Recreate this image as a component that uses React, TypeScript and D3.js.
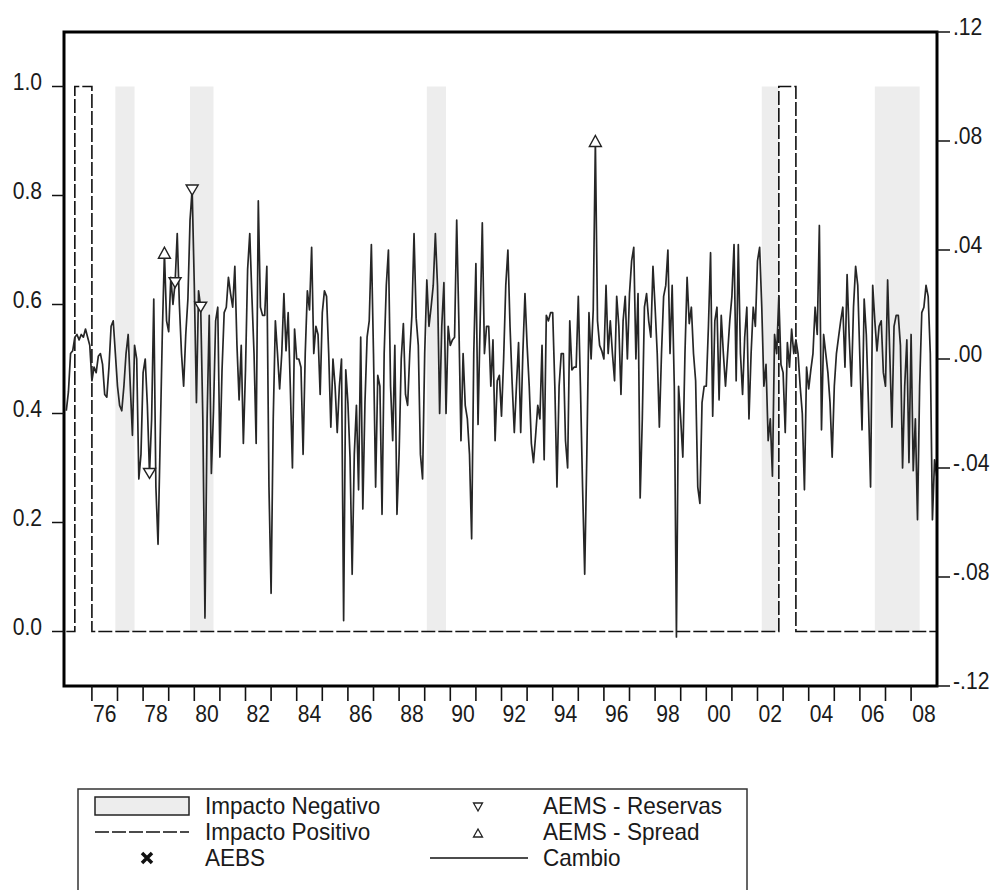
import React from "react";
import * as d3 from "d3";

// monthly Cambio series, first observation Jan 1975 (right axis)
const cambio1970s = [
  -0.019, -0.012, 0.002, 0.003, 0.008, 0.009, 0.007, 0.009, 0.008, 0.011, 0.008, 0.005,
  -0.008, -0.003, -0.005, 0.001, 0.002, -0.002, -0.013, -0.014, -0.003, 0.012, 0.014, 0.002,
  -0.01, -0.017, -0.019, -0.01, 0.002, 0.009, -0.01, -0.028, 0.005, 0.0, -0.044, -0.035,
  -0.005, 0.0, -0.017, -0.042, -0.022, 0.022, -0.047, -0.068, -0.03, 0.009, 0.039, 0.014,
  0.01, 0.03, 0.02, 0.028, 0.046, 0.02, 0.002, -0.01, 0.009, 0.022, 0.051, 0.062,
];
const cambio1980s = [
  0.027, -0.016, 0.025, 0.019, -0.022, -0.095, -0.022, 0.016, -0.042, -0.019, 0.014, 0.019,
  -0.036, -0.004, 0.017, 0.019, 0.03, 0.024, 0.019, 0.034, 0.005, -0.015, 0.005, -0.031,
  -0.004, 0.033, 0.046, 0.023, 0.002, -0.031, 0.058, 0.019, 0.016, 0.016, 0.034, -0.047,
  -0.086, -0.022, 0.014, 0.002, -0.011, 0.002, 0.024, 0.003, 0.017, -0.01, -0.04, 0.011,
  0.0, 0.0, -0.003, -0.035, 0.002, 0.025, 0.018, 0.041, 0.002, 0.012, 0.009, -0.013,
  0.017, 0.025, 0.023, 0.002, -0.025, 0.0, -0.01, -0.027, -0.01, 0.0, -0.096, -0.004,
  -0.016, -0.036, -0.079, -0.035, -0.017, -0.048, 0.008, -0.055, -0.016, 0.008, 0.014, 0.042,
  0.002, -0.047, -0.006, -0.01, -0.057, 0.002, 0.027, 0.04, -0.01, -0.03, 0.005, -0.057,
  -0.035, 0.0, 0.013, -0.013, -0.017, 0.002, 0.016, 0.046, 0.015, 0.005, -0.035, -0.044,
  0.002, 0.029, 0.012, 0.019, 0.027, 0.046, 0.027, -0.02, 0.012, 0.028, -0.02, 0.012,
];
const cambio1990s = [
  0.005, 0.007, 0.008, 0.051, 0.014, -0.03, 0.002, -0.017, -0.022, -0.035, -0.066, 0.002,
  0.035, -0.024, 0.014, 0.05, 0.002, 0.012, 0.012, -0.01, 0.007, -0.03, -0.008, -0.006,
  -0.021, 0.0, 0.027, 0.04, 0.012, -0.009, -0.027, -0.01, 0.006, -0.027, 0.002, 0.024,
  0.005, -0.01, -0.031, -0.038, -0.028, -0.017, -0.022, 0.005, -0.037, 0.016, 0.014, 0.017,
  0.017, -0.01, -0.047, -0.01, 0.002, 0.002, -0.03, -0.04, 0.014, -0.004, -0.003, -0.003,
  0.023, -0.01, -0.047, -0.079, -0.035, 0.017, 0.0, 0.018, 0.08, 0.014, 0.005, 0.003,
  0.0, 0.027, 0.002, 0.014, 0.002, -0.008, 0.023, 0.012, -0.013, 0.014, 0.023, 0.0,
  0.024, 0.036, 0.041, 0.0, 0.024, -0.051, -0.022, 0.019, 0.024, 0.014, 0.008, 0.034,
  0.019, 0.002, -0.025, 0.002, 0.023, 0.027, 0.04, 0.002, 0.027, -0.01, -0.102, -0.01,
  -0.022, -0.036, 0.002, 0.03, 0.013, 0.019, 0.002, -0.008, -0.047, -0.053, -0.016, -0.01,
];
const cambio2000s = [
  -0.01, 0.012, 0.039, -0.021, 0.014, 0.019, -0.015, 0.016, 0.002, -0.01, 0.002, 0.014,
  0.023, 0.042, -0.008, 0.042, 0.002, -0.013, 0.008, 0.019, -0.022, 0.002, 0.019, 0.012,
  0.036, 0.041, 0.019, -0.01, -0.002, -0.03, -0.022, -0.043, 0.009, 0.002, 0.023, -0.002,
  -0.005, -0.027, 0.006, -0.003, 0.011, 0.002, 0.007, 0.002, -0.01, -0.02, -0.048, -0.003,
  -0.011, -0.004, 0.002, 0.019, 0.009, 0.049, -0.026, 0.009, 0.002, -0.005, -0.016, -0.036,
  -0.01, 0.002, 0.008, 0.014, 0.019, -0.003, 0.031, 0.008, -0.01, 0.019, 0.034, 0.027,
  0.0, -0.026, 0.022, 0.009, -0.016, -0.047, 0.027, 0.014, 0.003, 0.012, 0.014, -0.005,
  -0.01, 0.029, 0.002, -0.025, 0.012, 0.016, 0.016, 0.005, -0.04, -0.01, 0.007, -0.038,
  0.009, -0.041, -0.022, -0.059, -0.01, 0.017, 0.019, 0.027, 0.023, 0.002, -0.059, -0.037,
  -0.043,
];

// shaded periods (left axis, 0..1) and the dashed dummy
const impactoNegativo = [
  ["1976-12", "1977-09"],
  ["1979-11", "1980-10"],
  ["1989-02", "1989-11"],
  ["2002-03", "2002-11"],
  ["2006-08", "2008-05"],
];
const impactoPositivo = [
  ["1975-05", "1976-01"],
  ["2002-11", "2003-07"],
];

// event markers, drawn on the Cambio line
const aemsReservas = ["1978-04", "1979-04", "1979-12", "1980-04"];
const aemsSpread = ["1978-11", "1995-09"];

const leftTicks = ["0.0", "0.2", "0.4", "0.6", "0.8", "1.0"];
const rightTicks = [".12", ".08", ".04", ".00", "-.04", "-.08", "-.12"];
const yearLabels = ["76", "78", "80", "82", "84", "86", "88", "90", "92", "94", "96", "98", "00", "02", "04", "06", "08"];

const FONT = "'Liberation Sans', Arial, sans-serif";

const toT = (s: string) => {
  const [y, m] = s.split("-").map(Number);
  return y + (m - 1) / 12;
};

function Txt({ x, y, anchor = "start", size = 24, sx = 0.88, children }: any) {
  return (
    <text
      transform={`translate(${x},${y}) scale(${sx},1)`}
      textAnchor={anchor}
      fontSize={size}
      fontFamily={FONT}
      fill="#1a1a1a"
    >
      {children}
    </text>
  );
}

const triDown = (cx: number, cy: number, w: number, h: number) =>
  `M${cx - w / 2},${cy - h / 2}L${cx + w / 2},${cy - h / 2}L${cx},${cy + h / 2}Z`;
const triUp = (cx: number, cy: number, w: number, h: number) =>
  `M${cx - w / 2},${cy + h / 2}L${cx + w / 2},${cy + h / 2}L${cx},${cy - h / 2}Z`;

export default function App() {
  const frame = { left: 64, right: 937, top: 32, bottom: 686 };
  const cambio = [...cambio1970s, ...cambio1980s, ...cambio1990s, ...cambio2000s];
  const series = cambio.map((v, i) => ({ t: 1975 + i / 12, v }));

  const x = d3.scaleLinear().domain([1975, 2009]).range([66.3, 936.7]);
  const yL = d3.scaleLinear().domain([-0.1, 1.1]).range([frame.bottom, frame.top]);
  const yR = d3.scaleLinear().domain([-0.12, 0.12]).range([frame.bottom, frame.top]);

  const line = d3
    .line<{ t: number; v: number }>()
    .x((d) => x(d.t))
    .y((d) => yR(d.v));

  const stepPts: [number, number][] = [[1975, 0]];
  impactoPositivo.forEach(([a, b]) => {
    stepPts.push([toT(a), 0], [toT(a), 1], [toT(b), 1], [toT(b), 0]);
  });
  stepPts.push([2009, 0]);
  const stepLine = d3
    .line<[number, number]>()
    .x((d) => x(d[0]))
    .y((d) => yL(d[1]));

  const valueAt = (s: string) => cambio[Math.round((toT(s) - 1975) * 12)];
  const years = d3.range(1976, 2009);

  const legTop = 789;
  const rows = [806, 832, 858];

  return (
    <svg
      width={1002}
      height={890}
      style={{ position: "absolute", left: 0, top: 0, background: "#fff" }}
    >
      <rect width={1002} height={890} fill="#fff" />

      {/* Impacto Negativo shading */}
      {impactoNegativo.map(([a, b], i) => (
        <rect
          key={i}
          x={x(toT(a))}
          width={x(toT(b)) - x(toT(a))}
          y={yL(1)}
          height={yL(0) - yL(1)}
          fill="#ededed"
        />
      ))}

      {/* Impacto Positivo */}
      <path d={stepLine(stepPts) || ""} fill="none" stroke="#111" strokeWidth={1.6} strokeDasharray="14 3" />

      {/* Cambio */}
      <path d={line(series) || ""} fill="none" stroke="#262626" strokeWidth={1.7} strokeLinejoin="round" />

      {aemsReservas.map((s) => (
        <path key={s} d={triDown(x(toT(s)), yR(valueAt(s)), 12, 10)} fill="#fff" stroke="#222" strokeWidth={1.4} />
      ))}
      {aemsSpread.map((s) => (
        <path key={s} d={triUp(x(toT(s)), yR(valueAt(s)), 12, 11)} fill="#fff" stroke="#222" strokeWidth={1.4} />
      ))}

      {/* frame */}
      <rect
        x={frame.left}
        y={frame.top}
        width={frame.right - frame.left}
        height={frame.bottom - frame.top}
        fill="none"
        stroke="#000"
        strokeWidth={3}
      />

      {/* left axis */}
      {leftTicks.map((l) => (
        <g key={l}>
          <line x1={52} x2={frame.left} y1={yL(+l)} y2={yL(+l)} stroke="#111" strokeWidth={1.5} />
          <Txt x={42} y={yL(+l) + 3} anchor="end">
            {l}
          </Txt>
        </g>
      ))}

      {/* right axis */}
      {rightTicks.map((l) => (
        <g key={l}>
          <line x1={frame.right} x2={950} y1={yR(+l)} y2={yR(+l)} stroke="#111" strokeWidth={1.5} />
          <Txt x={953} y={yR(+l) + 3}>
            {l}
          </Txt>
        </g>
      ))}

      {/* bottom axis */}
      {years.map((yr) => (
        <line key={yr} x1={x(yr)} x2={x(yr)} y1={frame.bottom} y2={frame.bottom + 15} stroke="#111" strokeWidth={1.6} />
      ))}
      {yearLabels.map((l) => {
        const yr = (+l < 50 ? 2000 : 1900) + +l;
        return (
          <Txt key={l} x={x(yr + 0.5)} y={frame.bottom + 36} anchor="middle">
            {l}
          </Txt>
        );
      })}

      {/* legend */}
      <rect x={78} y={legTop} width={669} height={120} fill="none" stroke="#333" strokeWidth={1.5} />
      <rect x={95} y={rows[0] - 9} width={94} height={18} fill="#ededed" stroke="#222" strokeWidth={1.5} />
      <line x1={95} x2={189} y1={rows[1]} y2={rows[1]} stroke="#111" strokeWidth={1.6} strokeDasharray="14 3" />
      <path
        d={`M${142},${rows[2] - 5}L${152},${rows[2] + 5}M${152},${rows[2] - 5}L${142},${rows[2] + 5}`}
        stroke="#111"
        strokeWidth={3.5}
      />
      <Txt x={205} y={rows[0] + 8} size={23} sx={0.98}>Impacto Negativo</Txt>
      <Txt x={205} y={rows[1] + 8} size={23} sx={0.98}>Impacto Positivo</Txt>
      <Txt x={205} y={rows[2] + 8} size={23} sx={0.98}>AEBS</Txt>

      <path d={triDown(478, rows[0] + 1, 9, 8)} fill="#fff" stroke="#222" strokeWidth={1.3} />
      <path d={triUp(478, rows[1] + 1, 9, 8)} fill="#fff" stroke="#222" strokeWidth={1.3} />
      <line x1={430} x2={528} y1={rows[2]} y2={rows[2]} stroke="#111" strokeWidth={1.5} />
      <Txt x={543} y={rows[0] + 8} size={23} sx={0.98}>AEMS - Reservas</Txt>
      <Txt x={543} y={rows[1] + 8} size={23} sx={0.98}>AEMS - Spread</Txt>
      <Txt x={543} y={rows[2] + 8} size={23} sx={0.98}>Cambio</Txt>
    </svg>
  );
}
